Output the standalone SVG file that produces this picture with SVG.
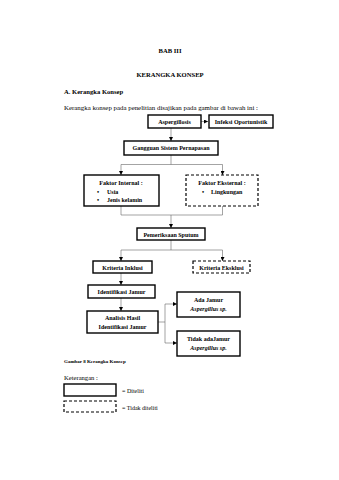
<svg xmlns="http://www.w3.org/2000/svg" width="339" height="480" viewBox="0 0 339 480">
<style>
text{font-family:"Liberation Serif","Times New Roman",serif;fill:#000}
.h{font-weight:bold;font-size:6.6px;text-anchor:middle}
.p{font-size:6.6px}
.b{font-weight:bold;font-size:6px;text-anchor:middle}
.bl{font-weight:bold;font-size:6px}
.i{font-style:italic}
.s{fill:#fff;stroke:#000;stroke-width:1.4}
.d{fill:#fff;stroke:#000;stroke-width:1.2;stroke-dasharray:3 2}
.c{fill:none;stroke:#666;stroke-width:0.6}
</style>
<defs>
<marker id="a" viewBox="0 0 6 6" refX="6" refY="3" markerWidth="4" markerHeight="4" orient="auto" markerUnits="userSpaceOnUse">
<path d="M0,0L6,3L0,6z" fill="#000"/>
</marker>
</defs>
<rect width="339" height="480" fill="#fff"/>
<text class="h" x="170" y="53">BAB III</text>
<text class="h" x="170" y="77">KERANGKA KONSEP</text>
<text class="bl" x="64" y="94" style="font-size:6.6px">A.  Kerangka Konsep</text>
<text class="p" x="64" y="110" textLength="194" lengthAdjust="spacingAndGlyphs">Kerangka konsep pada penelitian disajikan pada gambar di bawah ini :</text>

<g id="connectors">
<path class="c" d="M201,121.5H208" marker-end="url(#a)"/>
<path class="c" d="M171,128V141" marker-end="url(#a)"/>
<path class="c" d="M171,155V164.5M121,164.5H222.5"/>
<path class="c" d="M121,164.5V175" marker-end="url(#a)"/>
<path class="c" d="M222.5,164.5V175" marker-end="url(#a)"/>
<path class="c" d="M121,206V215H222.5V206"/>
<path class="c" d="M171,215V228" marker-end="url(#a)"/>
<path class="c" d="M171,240V250H121M171,250H222.5"/>
<path class="c" d="M121,250V261" marker-end="url(#a)"/>
<path class="c" d="M222.5,250V261" marker-end="url(#a)"/>
<path class="c" d="M121,273V285" marker-end="url(#a)"/>
<path class="c" d="M121,298V311" marker-end="url(#a)"/>
<path class="c" d="M158,322H165M165,304V343"/>
<path class="c" d="M165,304H177" marker-end="url(#a)"/>
<path class="c" d="M165,343H177" marker-end="url(#a)"/>
</g>

<g id="aspergillosis">
<rect class="s" x="148" y="115" width="53" height="13"/>
<text class="b" x="174.5" y="123.8">Aspergillosis</text>
</g>
<g id="infeksi">
<rect class="s" x="209" y="115" width="64" height="13"/>
<text class="b" x="241" y="123.8">Infeksi Oportunistik</text>
</g>
<g id="gangguan">
<rect class="s" x="124" y="141" width="94" height="14"/>
<text class="b" x="171" y="150.3">Gangguan Sistem Pernapasan</text>
</g>
<g id="internal">
<rect class="s" x="84" y="175" width="75" height="31"/>
<text class="b" x="121" y="184.5">Faktor Internal :</text>
<text class="bl" x="97" y="193.8">•</text>
<text class="bl" x="107" y="193.8">Usia</text>
<text class="bl" x="97" y="202.3">•</text>
<text class="bl" x="107" y="202.3">Jenis kelamin</text>
</g>
<g id="eksternal">
<rect class="d" x="186" y="175" width="72" height="31"/>
<text class="b" x="222" y="184.5">Faktor Eksternal :</text>
<text class="bl" x="202" y="193.8">•</text>
<text class="bl" x="211" y="193.8">Lingkungan</text>
</g>
<g id="pemeriksaan">
<rect class="s" x="137" y="228" width="68" height="12"/>
<text class="b" x="171" y="236.5">Pemeriksaan Sputum</text>
</g>
<g id="inklusi">
<rect class="s" x="93" y="261" width="59" height="12"/>
<text class="b" x="122.5" y="269.5">Kriteria Inklusi</text>
</g>
<g id="eksklusi">
<rect class="d" x="193" y="261" width="57" height="12"/>
<text class="b" x="221.5" y="269.5">Kriteria Eksklusi</text>
</g>
<g id="identifikasi">
<rect class="s" x="88" y="285" width="67" height="13"/>
<text class="b" x="121.5" y="293.8">Identifikasi Jamur</text>
</g>
<g id="analisis">
<rect class="s" x="87" y="311" width="71" height="22"/>
<text class="b" x="122.5" y="320.3">Analisis Hasil</text>
<text class="b" x="122.5" y="328.8">Identifikasi Jamur</text>
</g>
<g id="ada">
<rect class="s" x="177" y="292" width="63" height="25"/>
<text class="b" x="208.5" y="302.3">Ada Jamur</text>
<text class="b i" x="208.5" y="311.3">Aspergillus sp.</text>
</g>
<g id="tidak">
<rect class="s" x="177" y="331" width="63" height="25"/>
<text class="b" x="208.5" y="341.3">Tidak adaJamur</text>
<text class="b i" x="208.5" y="350.3">Aspergillus sp.</text>
</g>

<text class="bl" x="64" y="363" style="font-size:5px">Gambar 8 Kerangka Konsep</text>
<text class="p" x="64" y="380">Keterangan :</text>
<g id="legend-solid">
<rect class="s" x="64" y="384" width="52" height="12"/>
<text class="p" x="122" y="392.5" style="font-size:6px">= Diteliti</text>
</g>
<g id="legend-dashed">
<rect class="d" x="64" y="401" width="52" height="11"/>
<text class="p" x="122" y="409.5" style="font-size:6px">= Tidak diteliti</text>
</g>
</svg>
